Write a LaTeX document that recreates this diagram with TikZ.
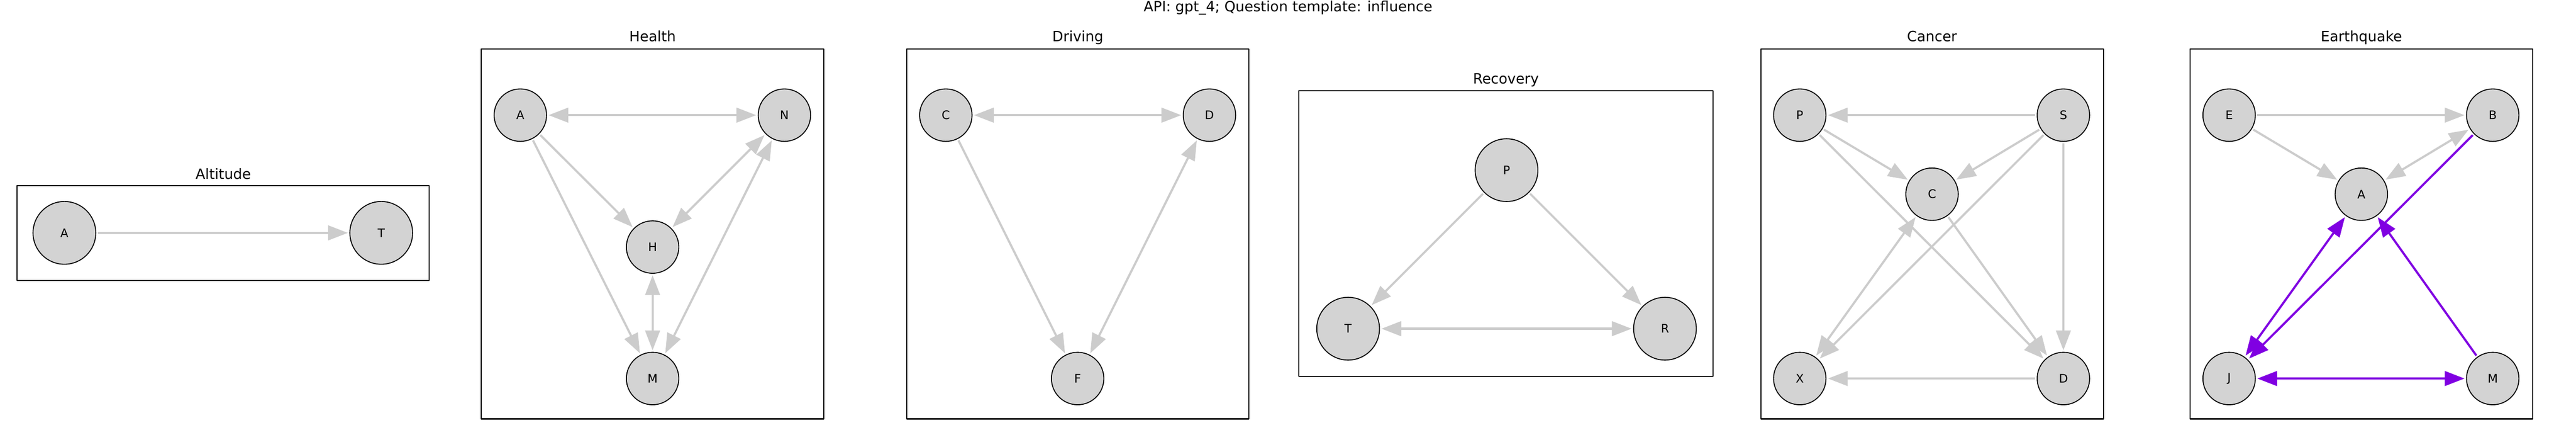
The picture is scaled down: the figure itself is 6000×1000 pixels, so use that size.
\documentclass[tikz,border=0pt]{standalone}
\usepackage{fontspec}
\setmainfont{DejaVu Sans}
\usetikzlibrary{arrows.meta}
\definecolor{nodegray}{HTML}{D3D3D3}
\definecolor{edgegray}{HTML}{CCCCCC}
\definecolor{hlpurple}{RGB}{128,0,226}
\tikzset{
	vertex/.style={circle, draw=black, line width=0.022cm, fill=nodegray, inner sep=0pt, minimum size=1.22cm, font=\fontsize{7.8pt}{9pt}\selectfont},
	bigvertex/.style={vertex, minimum size=1.46cm},
	edge/.style={draw=edgegray, line width=0.05cm, shorten >=1pt, shorten <=1pt, >={Triangle[length=4.6mm, width=3.4mm]}},
	hledge/.style={edge, draw=hlpurple},
	panel/.style={draw=black, line width=0.025cm},
	paneltitle/.style={anchor=base, font=\fontsize{9.4pt}{11pt}\selectfont}
}
\begin{document}
\begin{tikzpicture}[x=0.01cm, y=-0.01cm, line join=round]
				\useasboundingbox (0,0) rectangle (6000,1000);
				\node[paneltitle] (title) at (3000,27) {API: gpt\_4; Question template: influence};
				% panels
				\foreach \name/\xa/\ya/\xb/\yb/\ty in {Altitude/40/432/1000/653/417, Health/1121/114/1919/975/97, Driving/2112/114/2909/975/97, Recovery/3025/211/3990/876/195, Cancer/4101/114/4899/975/97, Earthquake/5101/114/5899/975/97}
				{
					\draw[panel] (\xa,\ya) rectangle (\xb,\yb);
					\node[paneltitle] (t\name) at ({(\xa+\xb)/2},\ty) {\name};
				}
				% Altitude
				\node[bigvertex] (aA) at (150,542) {A};
				\node[bigvertex] (aT) at (888,542) {T};
				\draw[edge, ->] (aA) -- (aT);
				% Health
				\foreach \n/\x/\y in {A/1212/268, N/1827/268, H/1520/575, M/1520/881}
					\node[vertex] (h\n) at (\x,\y) {\n};
				\draw[edge, <->] (hA) -- (hN);
				\draw[edge, ->] (hA) -- (hH);
				\draw[edge, ->] (hA) -- (hM);
				\draw[edge, <->] (hN) -- (hH);
				\draw[edge, <->] (hN) -- (hM);
				\draw[edge, <->] (hH) -- (hM);
				% Driving
				\foreach \n/\x/\y in {C/2203/268, D/2817/268, F/2510/881}
					\node[vertex] (d\n) at (\x,\y) {\n};
				\draw[edge, <->] (dC) -- (dD);
				\draw[edge, ->] (dC) -- (dF);
				\draw[edge, <->] (dD) -- (dF);
				% Recovery
				\foreach \n/\x/\y in {P/3509/396, T/3140/765, R/3878/765}
					\node[bigvertex] (r\n) at (\x,\y) {\n};
				\draw[edge, ->] (rP) -- (rT);
				\draw[edge, ->] (rP) -- (rR);
				\draw[edge, <->] (rT) -- (rR);
				% Cancer
				\foreach \n/\x/\y in {P/4192/268, S/4806/268, C/4500/452, X/4192/881, D/4806/881}
					\node[vertex] (c\n) at (\x,\y) {\n};
				\draw[edge, ->] (cS) -- (cP);
				\draw[edge, ->] (cP) -- (cC);
				\draw[edge, ->] (cS) -- (cC);
				\draw[edge, ->] (cP) -- (cD);
				\draw[edge, ->] (cS) -- (cX);
				\draw[edge, ->] (cS) -- (cD);
				\draw[edge, ->] (cC) -- (cD);
				\draw[edge, <->] (cC) -- (cX);
				\draw[edge, ->] (cD) -- (cX);
				% Earthquake
				\foreach \n/\x/\y in {E/5192/268, B/5806/268, A/5500/452, J/5192/881, M/5806/881}
					\node[vertex] (e\n) at (\x,\y) {\n};
				\draw[edge, ->] (eE) -- (eB);
				\draw[edge, ->] (eE) -- (eA);
				\draw[edge, <->] (eB) -- (eA);
				\draw[hledge, ->] (eB) -- (eJ);
				\draw[hledge, <->] (eJ) -- (eA);
				\draw[hledge, ->] (eM) -- (eA);
				\draw[hledge, <->] (eJ) -- (eM);
			\end{tikzpicture}
\end{document}
